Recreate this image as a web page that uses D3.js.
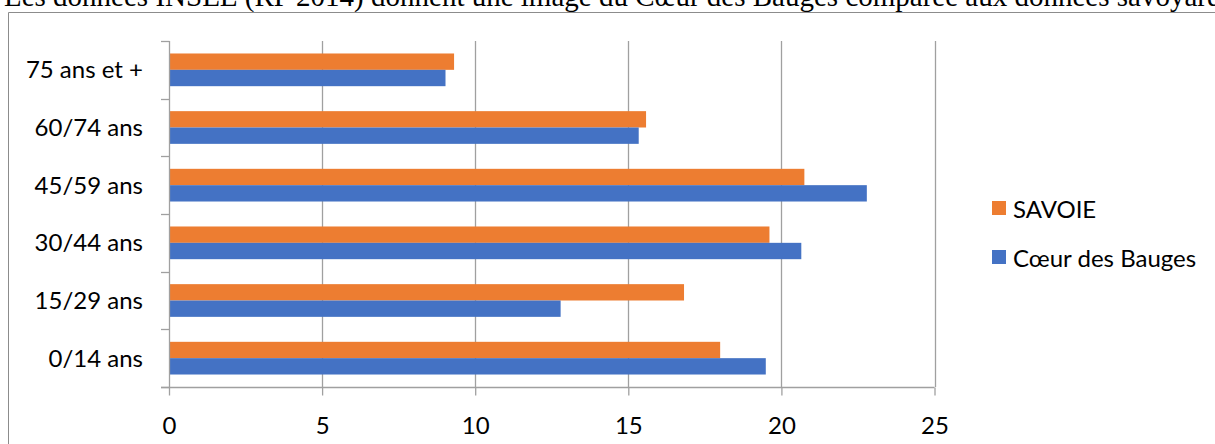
<!DOCTYPE html>
<html>
<head>
<meta charset="utf-8">
<script src="https://cdn.jsdelivr.net/npm/d3@7"></script>
<style>
  body { margin: 0; background: #fff; }
  svg { display: block; }
</style>
</head>
<body>
<script>
var categories = ["0/14 ans", "15/29 ans", "30/44 ans", "45/59 ans", "60/74 ans", "75 ans et +"];
var seriesNames = ["Cœur des Bauges", "SAVOIE"];
var bauges = [19.49, 12.79, 20.65, 22.79, 15.34, 9.03];
var savoie = [18.0, 16.82, 19.61, 20.75, 15.58, 9.31];
var xTicks = [0, 5, 10, 15, 20, 25];
var title = "Les données INSEE (RP 2014) donnent une image du Cœur des Bauges comparée aux données savoyardes";

var colors = {"Cœur des Bauges": "#4472C4", "SAVOIE": "#ED7D31"};
var font = "Lato, 'Open Sans', sans-serif";

var W = 1215, H = 444;
var pLeft = 169, pRight = 934.5, pTop = 41, pBottom = 387;

var svg = d3.select("body").append("svg").attr("width", W).attr("height", H);

// title line above the chart frame (cut at the top like the source)
svg.append("text")
  .attr("x", 4)
  .attr("y", 6)
  .attr("font-family", "'Liberation Serif', 'Times New Roman', serif")
  .attr("font-size", 29)
  .attr("fill", "#000")
  .text(title);

// chart frame
svg.append("path")
  .attr("d", "M8.5," + H + " V12.5 H" + W)
  .attr("fill", "none")
  .attr("stroke", "#8c8c8c")
  .attr("stroke-width", 1);

var x = d3.scaleLinear().domain([0, 25]).range([pLeft, pRight]);

var y = d3.scaleBand()
  .domain(categories)
  .range([pBottom, pTop])
  .paddingInner(0.433)
  .paddingOuter(0.2165);

// savoie on top, bauges below inside each band
var ySub = d3.scaleBand()
  .domain(["SAVOIE", "Cœur des Bauges"])
  .range([0, y.bandwidth()]);

// gridlines
svg.append("g")
  .selectAll("line")
  .data(xTicks.slice(1))
  .enter().append("line")
    .attr("x1", function(d) { return Math.round(x(d)) + 0.5; })
    .attr("x2", function(d) { return Math.round(x(d)) + 0.5; })
    .attr("y1", pTop)
    .attr("y2", pBottom)
    .attr("stroke", "#a0a0a0")
    .attr("stroke-width", 1.3);

var rows = categories.map(function(c, i) {
  return {cat: c, values: [{name: "SAVOIE", v: savoie[i]}, {name: "Cœur des Bauges", v: bauges[i]}]};
});

var groups = svg.append("g")
  .selectAll("g")
  .data(rows)
  .enter().append("g")
    .attr("transform", function(d) { return "translate(0," + y(d.cat) + ")"; });

groups.selectAll("rect")
  .data(function(d) { return d.values; })
  .enter().append("rect")
    .attr("x", x(0))
    .attr("y", function(d) { return ySub(d.name); })
    .attr("width", function(d) { return x(d.v) - x(0); })
    .attr("height", ySub.bandwidth())
    .attr("fill", function(d) { return colors[d.name]; });

// left axis: line + ticks at category boundaries
var yAxis = svg.append("g");
yAxis.append("line")
  .attr("x1", pLeft + 0.5).attr("x2", pLeft + 0.5)
  .attr("y1", pTop).attr("y2", pBottom)
  .attr("stroke", "#a0a0a0").attr("stroke-width", 1.3);

var bounds = categories.map(function(c) { return y(c) - y.step() * y.paddingInner() / 2; });
bounds.push(pBottom);
yAxis.selectAll("line.tick")
  .data(bounds)
  .enter().append("line")
    .attr("class", "tick")
    .attr("x1", pLeft - 8).attr("x2", pLeft + 0.5)
    .attr("y1", function(d) { return Math.round(d) + 0.5; })
    .attr("y2", function(d) { return Math.round(d) + 0.5; })
    .attr("stroke", "#a0a0a0").attr("stroke-width", 1.3);

yAxis.selectAll("text")
  .data(categories)
  .enter().append("text")
    .attr("x", 143)
    .attr("y", function(d) { return y(d) + y.bandwidth() / 2 - 1; })
    .attr("text-anchor", "end")
    .attr("dominant-baseline", "central")
    .attr("font-family", font)
    .attr("font-size", 24)
    .attr("fill", "#000")
    .text(function(d) { return d; });

// bottom axis
var xAxis = d3.axisBottom(x)
  .tickValues(xTicks)
  .tickSize(8)
  .tickPadding(21)
  .tickSizeOuter(0);

var gx = svg.append("g")
  .attr("transform", "translate(0," + (pBottom + 0.5) + ")")
  .call(xAxis);
gx.select(".domain").attr("stroke", "#a0a0a0").attr("stroke-width", 1.3)
  .attr("d", "M" + (pLeft - 8) + ",0H" + pRight);
gx.selectAll(".tick line").attr("stroke", "#a0a0a0").attr("stroke-width", 1.3);
gx.selectAll(".tick text")
  .attr("font-family", font)
  .attr("font-size", 24)
  .attr("fill", "#000");

// legend
var legend = svg.append("g")
  .selectAll("g")
  .data(["SAVOIE", "Cœur des Bauges"])
  .enter().append("g")
    .attr("transform", function(d, i) { return "translate(992," + (208 + i * 49) + ")"; });

legend.append("rect")
  .attr("x", 0).attr("y", -7)
  .attr("width", 14).attr("height", 14)
  .attr("fill", function(d) { return colors[d]; });

legend.append("text")
  .attr("x", 21)
  .attr("y", 0)
  .attr("dominant-baseline", "central")
  .attr("font-family", font)
  .attr("font-size", 24)
  .attr("fill", "#000")
  .text(function(d) { return d; });
</script>
</body>
</html>
